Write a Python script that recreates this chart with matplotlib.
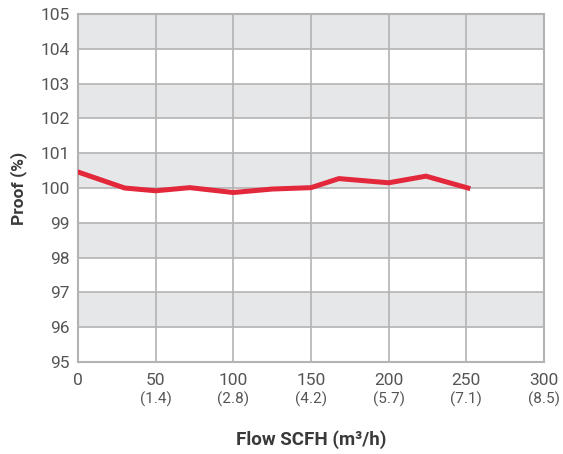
import numpy as np
import matplotlib.pyplot as plt
import matplotlib.transforms as mtransforms

# data
flow_scfh = [0, 30, 50, 72, 100, 125, 150, 168, 200, 224, 251]
proof_pct = [100.46, 100.0, 99.92, 100.01, 99.87, 99.97, 100.01, 100.27, 100.15, 100.34, 100.0]

x_ticks = [0, 50, 100, 150, 200, 250, 300]
x_metric = ["", "(1.4)", "(2.8)", "(4.2)", "(5.7)", "(7.1)", "(8.5)"]
y_ticks = [95, 96, 97, 98, 99, 100, 101, 102, 103, 104, 105]

plt.rcParams['font.family'] = ['Roboto', 'DejaVu Sans']

fig = plt.figure(figsize=(5.63, 4.54), dpi=100)
ax = fig.add_axes([78 / 563, 1 - 362 / 454, (544 - 78) / 563, (362 - 14) / 454])

grid_col = '#b3b3b3'
band_col = '#e6e7e9'
text_col = '#555555'

# alternating grey bands
for lo in range(96, 105, 2):
    ax.axhspan(lo, lo + 1, color=band_col, zorder=0, lw=0)

ax.plot(flow_scfh, proof_pct, color='#e2283a', lw=3.6, solid_joinstyle='miter', zorder=3)

ax.set_xlim(0, 300)
ax.set_ylim(95, 105)
ax.set_xticks(x_ticks)
ax.set_yticks(y_ticks)
ax.grid(True, color=grid_col, lw=1.2, zorder=1)
ax.set_axisbelow(True)
for s in ax.spines.values():
    s.set_color(grid_col)
    s.set_linewidth(1.5)
ax.tick_params(length=0, labelsize=12.5, labelcolor=text_col, pad=6)
ax.tick_params(axis='x', pad=8)

# metric flow labels under the scfh ticks
trans = mtransforms.blended_transform_factory(ax.transData, ax.transAxes)
for xv, lab in zip(x_ticks, x_metric):
    ax.text(xv, -0.085, lab, transform=trans, ha='center', va='top',
            fontsize=11, color=text_col)

ax.set_ylabel("Proof (%)", fontsize=12.5, fontweight='bold', color='#3a3a3a', labelpad=10)
fig.text(0.5 * (78 + 544) / 563, 1 - 440 / 454, "Flow SCFH (m³/h)", ha='center', va='center',
         fontsize=13.5, fontweight='bold', color='#3a3a3a')

fig.savefig("out.png", dpi=100)
